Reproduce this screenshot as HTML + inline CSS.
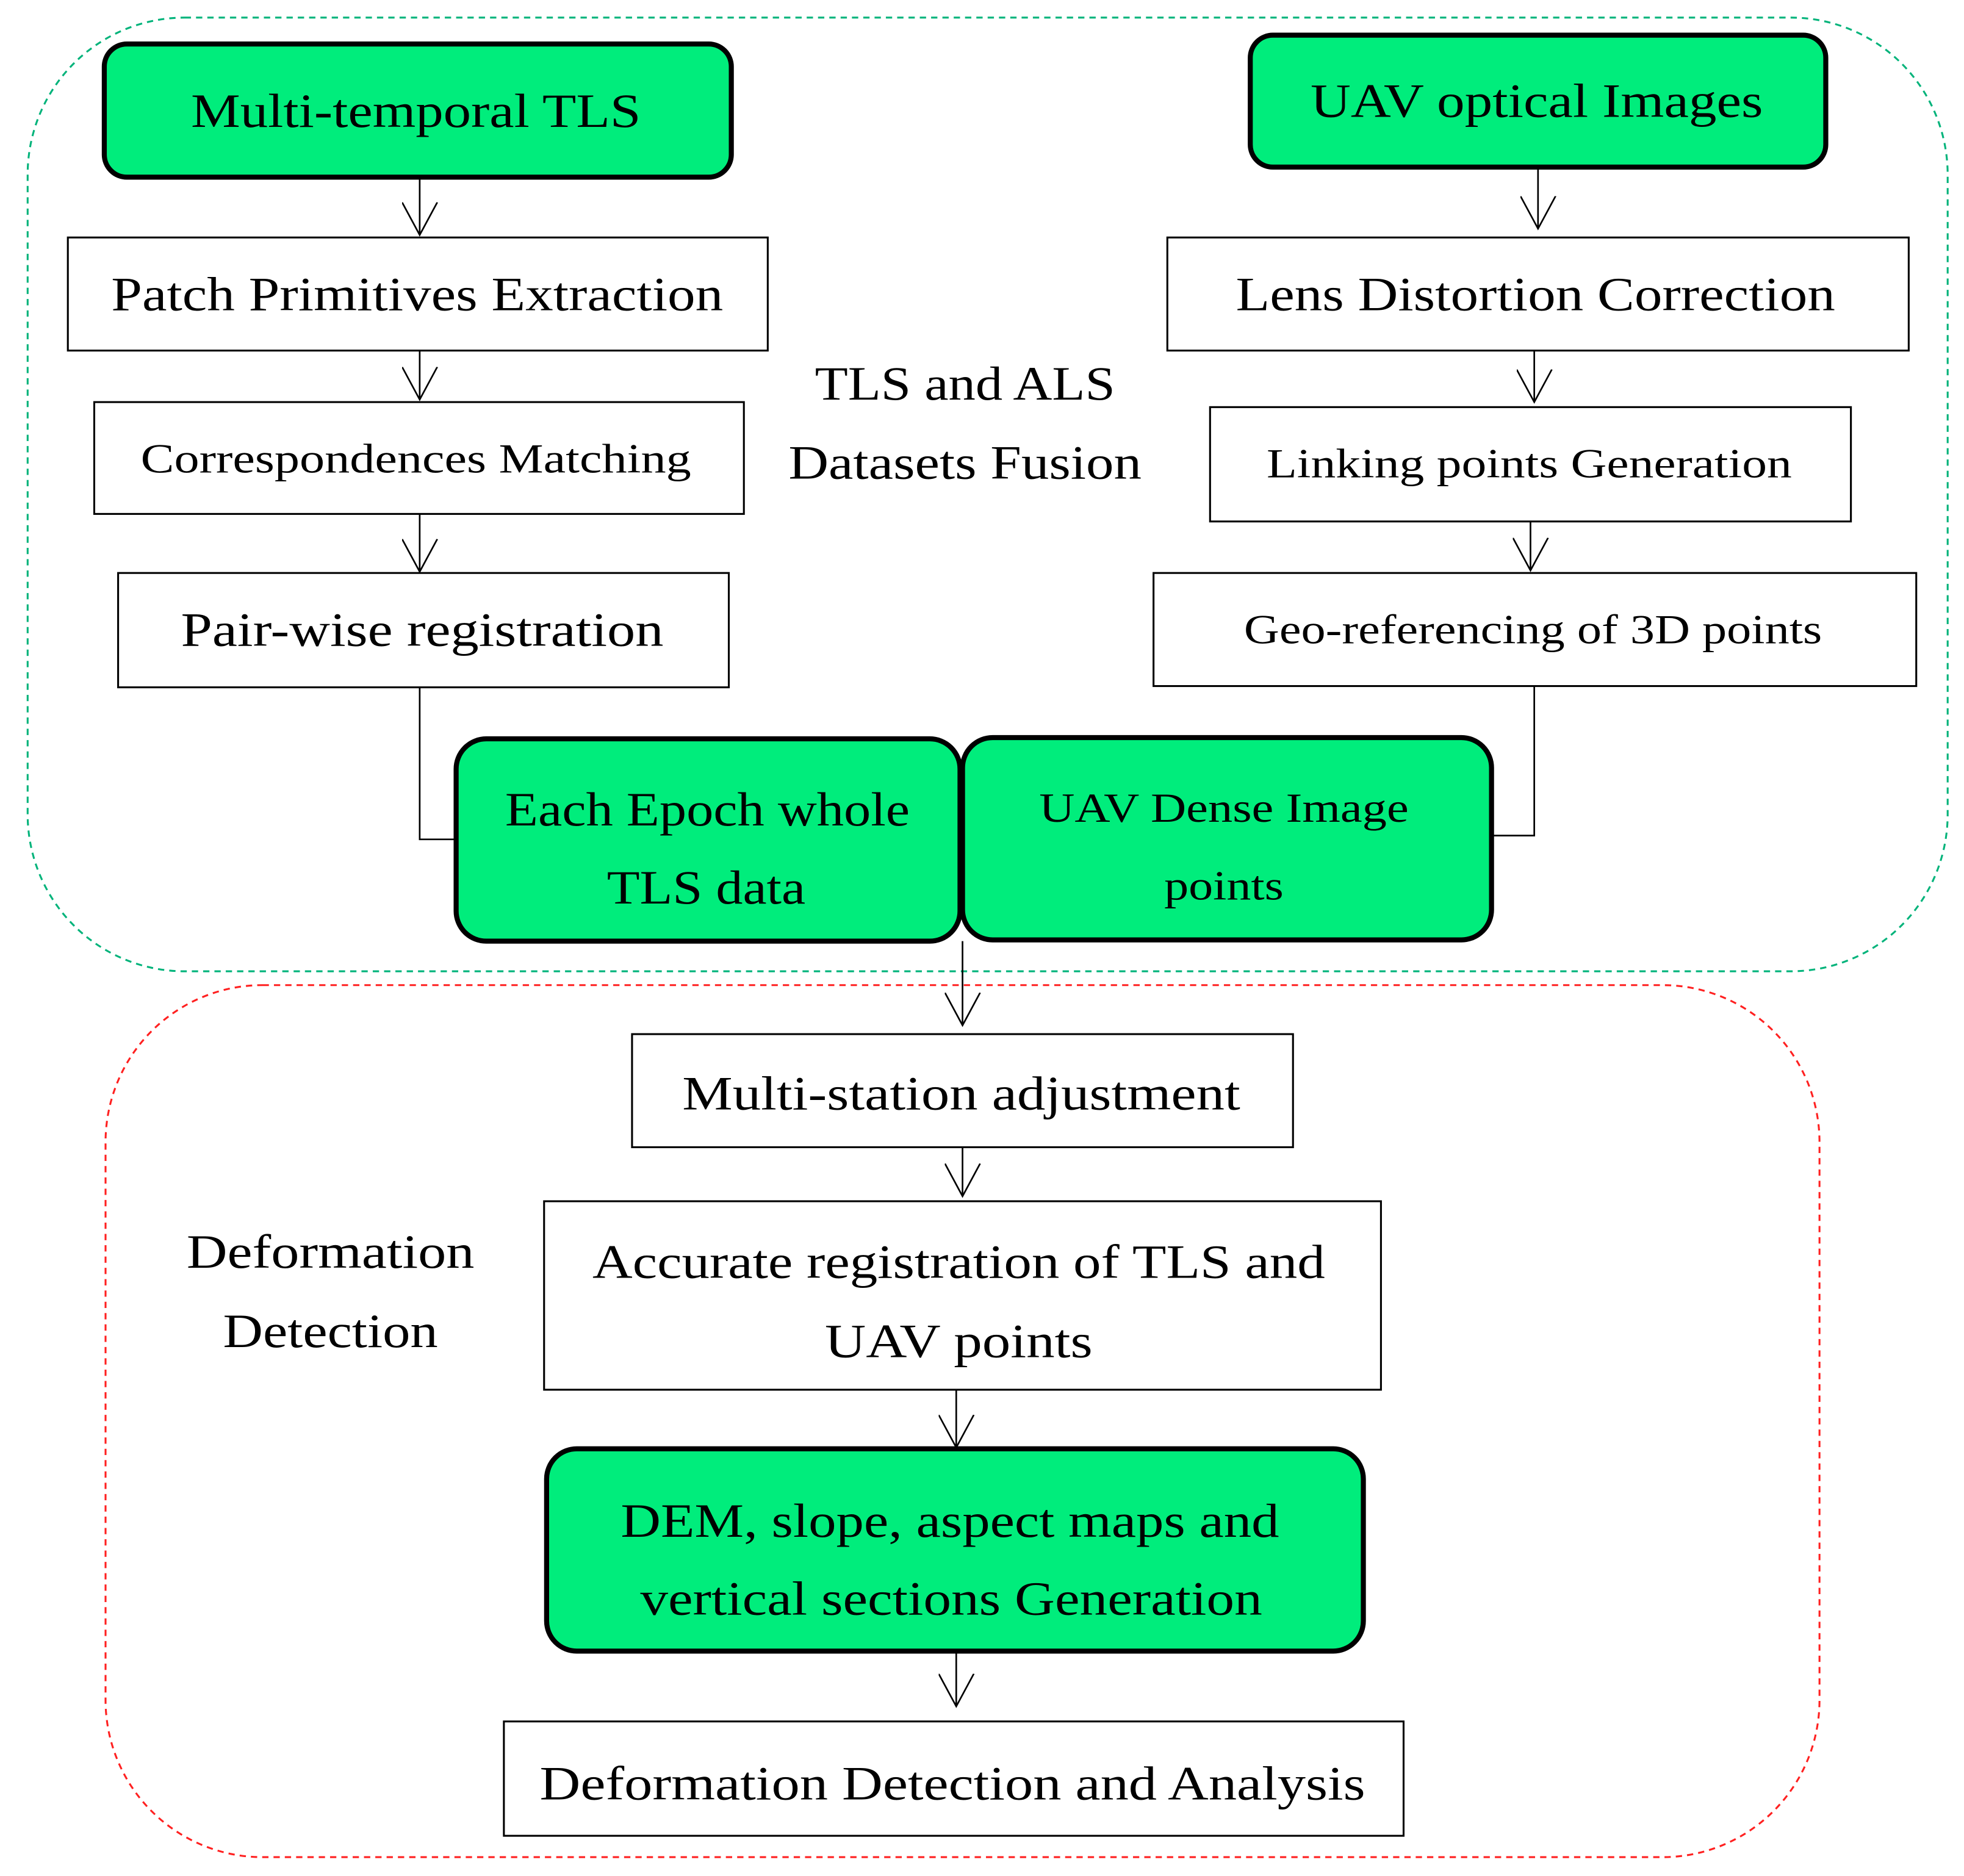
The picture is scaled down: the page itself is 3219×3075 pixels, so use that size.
<!DOCTYPE html>
<html><head><meta charset="utf-8"><style>
html,body{margin:0;padding:0;background:#fff;}
svg{display:block;}
text{font-family:"Liberation Serif",serif;fill:#000;text-anchor:middle;}
</style></head><body>
<svg width="3219" height="3075" viewBox="0 0 1563 1493" preserveAspectRatio="none" xmlns="http://www.w3.org/2000/svg">
<defs>
<marker id="a" markerWidth="30" markerHeight="30" refX="14" refY="26" orient="0" markerUnits="userSpaceOnUse">
<path d="M0,0 L14,26 L28,0" fill="none" stroke="#000" stroke-width="1.3"/>
</marker>
</defs>
<rect x="22" y="14" width="1528" height="759" rx="125" fill="none" stroke="#00b37a" stroke-width="1.5" stroke-dasharray="5,4"/>
<rect x="84" y="784" width="1364" height="694" rx="125" fill="none" stroke="#ff2020" stroke-width="1.5" stroke-dasharray="5,4"/>

<g fill="#00ed7c" stroke="#000" stroke-width="4">
<rect x="83" y="35" width="499" height="106" rx="18"/>
<rect x="995" y="28" width="458" height="105" rx="18"/>
<rect x="363" y="588" width="401" height="161" rx="24"/>
<rect x="766" y="587" width="421" height="161" rx="24"/>
<rect x="435" y="1153" width="650" height="161" rx="24"/>
</g>
<g fill="#fff" stroke="#000" stroke-width="1.5">
<rect x="54" y="189" width="557" height="90"/>
<rect x="75" y="320" width="517" height="89"/>
<rect x="94" y="456" width="486" height="91"/>
<rect x="929" y="189" width="590" height="90"/>
<rect x="963" y="324" width="510" height="91"/>
<rect x="918" y="456" width="607" height="90"/>
<rect x="503" y="823" width="526" height="90"/>
<rect x="433" y="956" width="666" height="150"/>
<rect x="401" y="1370" width="716" height="91"/>
</g>

<g stroke="#000" stroke-width="1.3" fill="none">
<line x1="334" y1="141" x2="334" y2="187" marker-end="url(#a)"/>
<line x1="334" y1="279" x2="334" y2="318" marker-end="url(#a)"/>
<line x1="334" y1="409" x2="334" y2="455" marker-end="url(#a)"/>
<line x1="1224" y1="133" x2="1224" y2="182" marker-end="url(#a)"/>
<line x1="1221" y1="279" x2="1221" y2="320" marker-end="url(#a)"/>
<line x1="1218" y1="415" x2="1218" y2="454" marker-end="url(#a)"/>
<polyline points="334,547 334,668 363,668"/>
<polyline points="1221,546 1221,665 1187,665"/>
<line x1="766" y1="749" x2="766" y2="816" marker-end="url(#a)"/>
<line x1="766" y1="913" x2="766" y2="952" marker-end="url(#a)"/>
<line x1="761" y1="1106" x2="761" y2="1152" marker-end="url(#a)"/>
<line x1="761" y1="1314" x2="761" y2="1358" marker-end="url(#a)"/>
</g>

<g font-size="38">
<text x="331" y="101" textLength="358" lengthAdjust="spacingAndGlyphs">Multi-temporal TLS</text>
<text x="1223" y="93" textLength="360" lengthAdjust="spacingAndGlyphs">UAV optical Images</text>
<text x="332" y="247" textLength="487" lengthAdjust="spacingAndGlyphs">Patch Primitives Extraction</text>
<text x="336" y="514" textLength="384" lengthAdjust="spacingAndGlyphs">Pair-wise registration</text>
<text x="1222" y="247" textLength="477" lengthAdjust="spacingAndGlyphs">Lens Distortion Correction</text>
<text x="768" y="318" textLength="239" lengthAdjust="spacingAndGlyphs">TLS and ALS</text>
<text x="768" y="381" textLength="281" lengthAdjust="spacingAndGlyphs">Datasets Fusion</text>
<text x="563" y="657" textLength="322" lengthAdjust="spacingAndGlyphs">Each Epoch whole</text>
<text x="562" y="719" textLength="158" lengthAdjust="spacingAndGlyphs">TLS data</text>
<text x="765" y="883" textLength="444" lengthAdjust="spacingAndGlyphs">Multi-station adjustment</text>
<text x="263" y="1009" textLength="229" lengthAdjust="spacingAndGlyphs">Deformation</text>
<text x="263" y="1072" textLength="171" lengthAdjust="spacingAndGlyphs">Detection</text>
<text x="763" y="1017" textLength="583" lengthAdjust="spacingAndGlyphs">Accurate registration of TLS and</text>
<text x="763" y="1080" textLength="213" lengthAdjust="spacingAndGlyphs">UAV points</text>
<text x="756" y="1223" textLength="524" lengthAdjust="spacingAndGlyphs">DEM, slope, aspect maps and</text>
<text x="757" y="1285" textLength="495" lengthAdjust="spacingAndGlyphs">vertical sections Generation</text>
<text x="758" y="1432" textLength="657" lengthAdjust="spacingAndGlyphs">Deformation Detection and Analysis</text>
</g>
<g font-size="33">
<text x="331" y="376" textLength="438" lengthAdjust="spacingAndGlyphs">Correspondences Matching</text>
<text x="1217" y="380" textLength="418" lengthAdjust="spacingAndGlyphs">Linking points Generation</text>
<text x="1220" y="512" textLength="460" lengthAdjust="spacingAndGlyphs">Geo-referencing of 3D points</text>
<text x="974" y="654" textLength="294" lengthAdjust="spacingAndGlyphs">UAV Dense Image</text>
<text x="974" y="716" textLength="95" lengthAdjust="spacingAndGlyphs">points</text>
</g>
</svg>
</body></html>
